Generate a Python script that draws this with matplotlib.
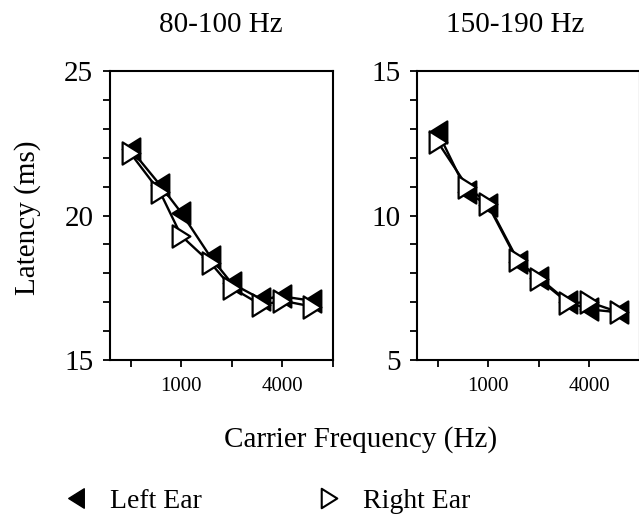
"""Latency vs carrier frequency for two modulation-rate bands, left/right ear."""

import matplotlib
matplotlib.use("Agg")
import matplotlib.pyplot as plt
from matplotlib.lines import Line2D
from matplotlib.path import Path
from matplotlib.ticker import MultipleLocator, NullLocator

plt.rcParams["font.family"] = ["Liberation Serif", "DejaVu Serif"]

# Data
freqs = [500, 750, 1000, 1500, 2000, 3000, 4000, 6000]

low_left = [22.3, 21.05, 20.1, 18.55, 17.65, 17.1, 17.2, 17.05]
low_right = [22.15, 20.8, 19.3, 18.35, 17.5, 16.9, 17.05, 16.85]

high_left = [12.9, 10.8, 10.35, 8.4, 7.85, 7.0, 6.75, 6.65]
high_right = [12.55, 11.0, 10.4, 8.45, 7.8, 6.97, 7.0, 6.65]

panel_titles = ["80-100 Hz", "150-190 Hz"]
low_yticks = [15, 20, 25]
high_yticks = [5, 10, 15]
xticks = [500, 1000, 2000, 4000, 8000]
xtick_labels = ["", "1000", "", "4000", ""]

# narrow, tall closed triangles like the original
TRI_LEFT = Path([(0.8, -1), (0.8, 1), (-0.8, 0), (0.8, -1)], closed=True)
TRI_RIGHT = Path([(-0.8, -1), (-0.8, 1), (0.8, 0), (-0.8, -1)], closed=True)

FS = 21
fig = plt.figure(figsize=(6.39, 5.19), dpi=100)

panels = [
    ([110 / 639, 159 / 519, 223 / 639, 289 / 519], low_left, low_right, low_yticks, 221),
    ([417 / 639, 159 / 519, 223 / 639, 289 / 519], high_left, high_right, high_yticks, 515),
]

for (rect, left, right, yt, title_x), title in zip(panels, panel_titles):
    ax = fig.add_axes(rect)
    ax.plot(freqs, left, color="black", lw=1.7, marker=TRI_LEFT, ms=16,
            mfc="black", mec="black", mew=1.5, clip_on=False, zorder=3)
    ax.plot(freqs, right, color="black", lw=1.7, marker=TRI_RIGHT, ms=16,
            mfc="white", mec="black", mew=1.6, clip_on=False, zorder=4)

    ax.set_xscale("log")
    ax.set_xlim(377, 8000)
    ax.set_xticks(xticks)
    ax.set_xticklabels(xtick_labels, fontsize=15)
    ax.xaxis.set_minor_locator(NullLocator())

    ax.set_ylim(yt[0], yt[-1])
    ax.set_yticks(yt)
    ax.set_yticklabels([str(v) for v in yt], fontsize=FS)
    ax.yaxis.set_minor_locator(MultipleLocator(1))

    ax.tick_params(which="both", direction="out", length=5, width=1.3,
                   top=False, right=False)
    ax.tick_params(axis="y", pad=7)
    ax.tick_params(axis="x", pad=7)
    for sp in ax.spines.values():
        sp.set_linewidth(1.5)

    fig.text(title_x / 639, 1 - 25 / 519, title, ha="center", va="center",
             fontsize=FS)

fig.text(28 / 639, 1 - 218 / 519, "Latency (ms)", rotation=90,
         ha="center", va="center", fontsize=FS)
fig.text(361 / 639, 1 - 440 / 519, "Carrier Frequency (Hz)",
         ha="center", va="center", fontsize=FS)

handles = [
    Line2D([], [], ls="none", marker=TRI_LEFT, ms=14, mfc="black", mec="black"),
    Line2D([], [], ls="none", marker=TRI_RIGHT, ms=14, mfc="white", mec="black",
           mew=1.5),
]
fig.legend(handles, ["Left Ear", "Right Ear"], ncol=2, loc="center left",
           bbox_to_anchor=(62 / 639, 1 - 501 / 519), frameon=False,
           fontsize=20, handlelength=1.0, handletextpad=0.72,
           columnspacing=4.1, borderpad=0, borderaxespad=0)

fig.savefig("out.png", dpi=100)
